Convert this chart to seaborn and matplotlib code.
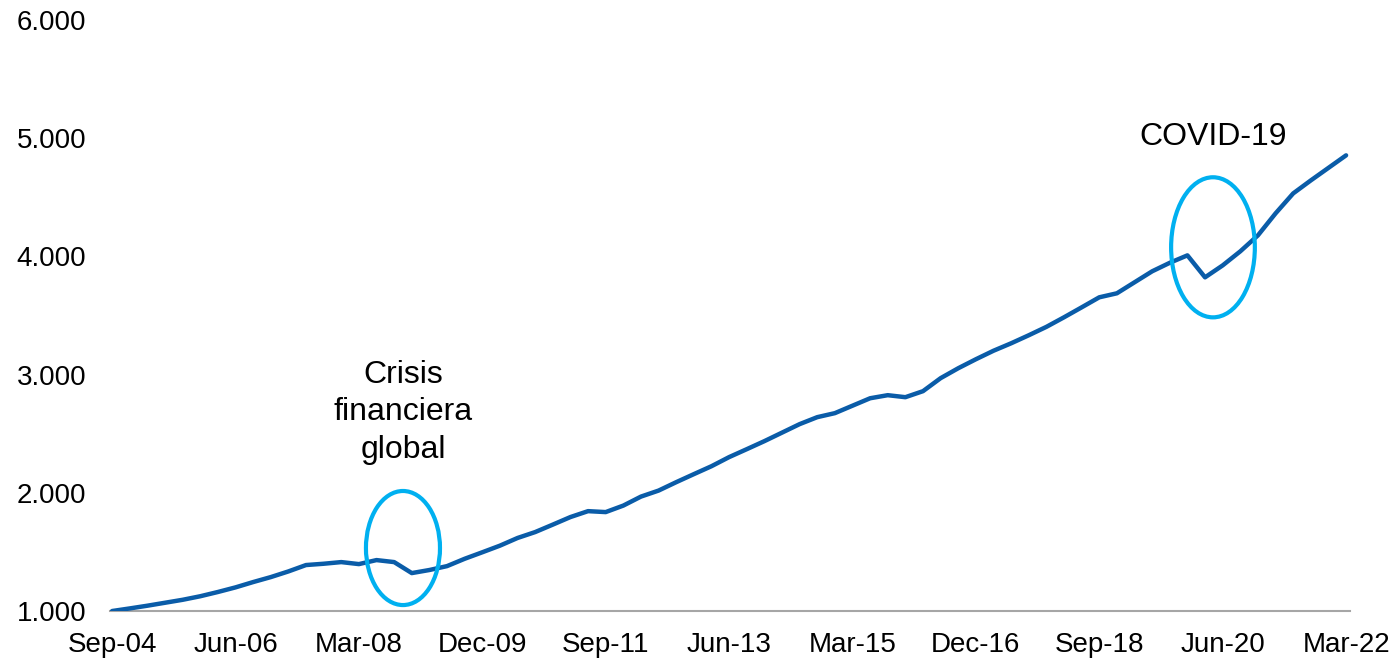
import matplotlib
matplotlib.use("Agg")
import matplotlib.pyplot as plt
from matplotlib.patches import Ellipse
import seaborn as sns
import pandas as pd
import numpy as np

# Quarterly index, Sep-04 = 1.000
months = ["Mar", "Jun", "Sep", "Dec"]
quarters = [f"{months[(2 + k) % 4]}-{(4 + (2 + k) // 4) % 100:02d}" for k in range(71)]

values = [
    1000, 1022, 1045, 1070, 1095, 1125, 1161, 1200, 1245, 1287,
    1335, 1389, 1400, 1414, 1397, 1431, 1414, 1321, 1347, 1380,
    1442, 1497, 1553, 1618, 1668, 1731, 1795, 1845, 1837, 1892,
    1968, 2019, 2090, 2158, 2225, 2302, 2369, 2437, 2509, 2581,
    2640, 2674, 2737, 2800, 2826, 2809, 2860, 2970, 3054, 3130,
    3202, 3265, 3333, 3404, 3485, 3569, 3654, 3688, 3781, 3874,
    3946, 4009, 3823, 3924, 4043, 4178, 4364, 4533, 4643, 4749,
    4855,
]

tick_step = 7
y_ticks = [1000, 2000, 3000, 4000, 5000, 6000]

# Highlighted episodes: (label, centre quarter, centre value, width in quarters,
# height, label centre value)
episodes = [
    ("Crisis\nfinanciera\nglobal", 16.5, 1533, 4.2, 965, 2680),
    ("COVID-19", 62.45, 4077, 4.75, 1185, 5010),
]

sns.set_theme(style="white")
plt.rcParams["font.family"] = ["Liberation Sans", "DejaVu Sans"]

df = pd.DataFrame({"q": np.arange(len(values)), "value": values})

fig = plt.figure(figsize=(13.94, 6.6), dpi=100)
ax = fig.add_axes([0.0789, 0.0742, 0.8895, 0.8955])

sns.lineplot(data=df, x="q", y="value", ax=ax, color="#0A5CA8", linewidth=3.2,
             solid_capstyle="round", zorder=3)

ell_color = "#00B0F0"
for label, cx, cy, w, h, ly in episodes:
    ax.add_patch(Ellipse((cx, cy), w, h, fill=False, edgecolor=ell_color,
                         linewidth=3.0, zorder=4))
    ax.text(cx, ly, label, ha="center", va="center", fontsize=23,
            color="black", linespacing=1.32)

ax.set_xlim(-0.12, 70.22)
ax.set_ylim(1000, 6000)
ax.set_yticks(y_ticks)
ax.set_yticklabels([f"{v:,}".replace(",", ".") for v in y_ticks])
tick_pos = list(range(0, len(values), tick_step))
ax.set_xticks(tick_pos)
ax.set_xticklabels([quarters[i] for i in tick_pos])
ax.set_xlabel("")
ax.set_ylabel("")

for s in ["top", "right", "left"]:
    ax.spines[s].set_visible(False)
ax.spines["bottom"].set_color("#A6A6A6")
ax.spines["bottom"].set_linewidth(1.5)
ax.tick_params(axis="x", length=0, pad=15, labelsize=20, colors="black")
ax.tick_params(axis="y", length=0, pad=17, labelsize=20, colors="black")
ax.grid(False)

fig.savefig("out.png", dpi=100)
